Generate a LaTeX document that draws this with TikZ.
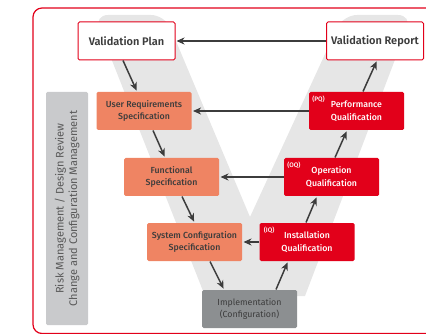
\documentclass[tikz,border=0pt]{standalone}
\usepackage{fontspec}
\setmainfont{Fira Sans}
\newfontfamily\medfont{Fira Sans Medium}
\newfontfamily\semifont{Fira Sans SemiBold}
\usepackage{xcolor}
\usetikzlibrary{shapes,arrows,arrows.meta,positioning}
\definecolor{vred}{HTML}{E2001A}
\definecolor{vsalmon}{HTML}{EF8463}
\definecolor{vgrey}{HTML}{8C8F91}
\definecolor{vlight}{HTML}{E6E6E6}
\definecolor{vbar}{HTML}{C9CACC}
\definecolor{vdark}{HTML}{3C3C3C}

\begin{document}
\begin{tikzpicture}[x=1pt,y=-1pt,->,>={Stealth[length=8pt,width=7pt,inset=2.5pt]},
  shorten >=1pt,line width=1.5pt,draw=vdark]
  \tikzstyle{phase}=[rectangle, rounded corners=1.5pt, minimum width=95pt,
    minimum height=38pt, align=center, inner sep=1pt, line width=1pt,
    font=\fontsize{8.8}{12.5}\selectfont\medfont]
  \tikzstyle{doc}=[phase, draw=vred, fill=white, text=vdark, minimum width=97pt,
    font=\fontsize{11}{12}\selectfont\semifont]
  \tikzstyle{spec}=[phase, fill=vsalmon, text=vdark]
  \tikzstyle{qual}=[phase, fill=vred, text=white]
  \tikzstyle{impl}=[phase, fill=vgrey, text=vdark, font=\fontsize{8.8}{12.5}\selectfont]
  \tikzstyle{tag}=[inner sep=0pt, text=white, font=\fontsize{6.5}{6.5}\selectfont\medfont]

  \useasboundingbox (0,0) rectangle (426,334);
  \clip (0,0) rectangle (426,334);

  % frame and V background
  \draw[-, vred, line width=1.2pt, rounded corners=9pt] (33,8) rectangle (450,333.5);
  \fill[-, vlight] (205,296) [rounded corners=14pt] -- (94,15) -- (165,15)
    [sharp corners] -- (250,217) [rounded corners=14pt] -- (343,15) -- (412,15)
    [sharp corners] -- (305,296) -- cycle;

  % side bar
  \node[-, fill=vbar, rounded corners=1.5pt, rotate=90, minimum width=233pt,
    minimum height=42pt, align=center, text=vdark!85,
    font=\fontsize{11}{13.5}\selectfont] (risk) at (67,208.5)
    {Risk Management / Design Review\\Change and Configuration Management};

  % boxes
  \node[doc]  (plan)   at (126.5,41) {Validation Plan};
  \node[doc]  (report) at (375,41)   {Validation Report};
  \node[spec] (urs)    at (144,111)  {User Requirements\\Specification};
  \node[qual] (pq)     at (356.5,111) {Performance\\Qualification};
  \node[spec] (fs)     at (171.5,177) {Functional\\Specification};
  \node[qual] (oq)     at (331.5,177) {Operation\\Qualification};
  \node[spec] (scs)    at (194.5,242) {System Configuration\\Specification};
  \node[qual] (iq)     at (307,242)  {Installation\\Qualification};
  \node[impl] (impl)   at (249.5,309) {Implementation\\(Configuration)};

  \node[tag, anchor=north west] at ([xshift=3pt,yshift=-4pt]pq.north west) {(PQ)};
  \node[tag, anchor=north west] at ([xshift=3pt,yshift=-4pt]oq.north west) {(OQ)};
  \node[tag, anchor=north west] at ([xshift=4pt,yshift=-4pt]iq.north west) {(IQ)};

  \path
  (report.west) edge (plan.east)
  (pq.west)     edge (urs.east)
  (oq.west)     edge (fs.east)
  (iq.west)     edge (scs.east)
  ([xshift=-3.5pt]plan.south) edge ([xshift=-7pt]urs.north)
  ([xshift=9pt]urs.south)     edge ([xshift=-6.5pt]fs.north)
  ([xshift=10.5pt]fs.south)   edge (scs.north)
  ([xshift=15.5pt]scs.south)  edge ([xshift=-25.5pt]impl.north)
  ([xshift=26.5pt]impl.north) edge ([xshift=-19pt]iq.south)
  ([xshift=-1pt]iq.north)     edge ([xshift=-14.5pt]oq.south)
  ([xshift=3.5pt]oq.north)    edge ([xshift=-9.5pt]pq.south)
  ([xshift=6.5pt]pq.north)    edge ([xshift=2pt]report.south)
  ;
\end{tikzpicture}
\end{document}
